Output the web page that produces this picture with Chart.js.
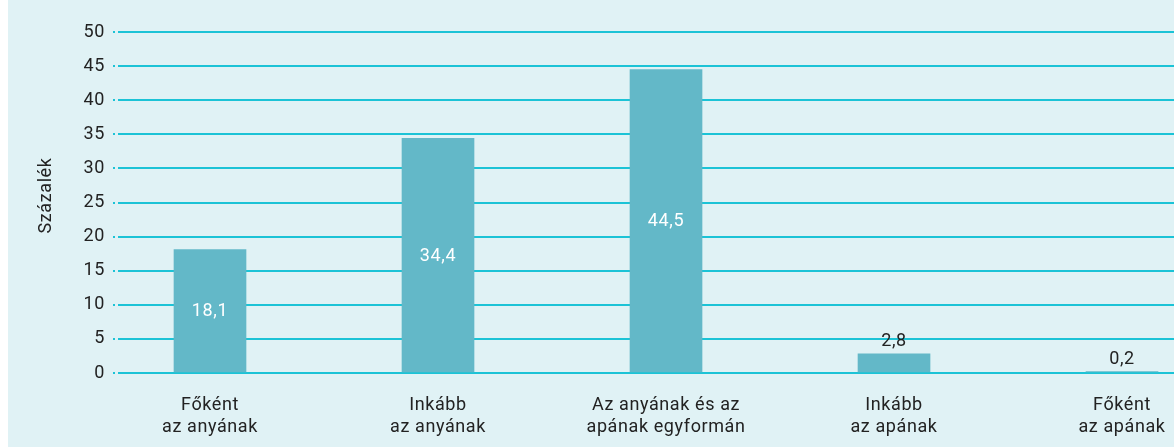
<!DOCTYPE html>
<html>
<head>
<meta charset="utf-8">
<script src="https://cdn.jsdelivr.net/npm/chart.js@4/dist/chart.umd.min.js"></script>
<style>
  html, body { margin: 0; padding: 0; background: #fff; }
  #wrap { position: absolute; left: 8px; top: 0; width: 1166px; height: 447px; background: #e0f2f5; }
  canvas { display: block; }
</style>
</head>
<body>
<div id="wrap"><canvas id="chart" width="1166" height="447"></canvas></div>
<script>
// categories (two lines each) and values in percent
var categories = [
	['Főként', 'az anyának'],
	['Inkább', 'az anyának'],
	['Az anyának és az', 'apának egyformán'],
	['Inkább', 'az apának'],
	['Főként', 'az apának']
];
var positions = [0, 1, 2, 3, 4];
var values = [18.1, 34.4, 44.5, 2.8, 0.2];
var valueLabels = ['18,1', '34,4', '44,5', '2,8', '0,2'];
var yTitle = 'Százalék';

var font = { family: 'Roboto, "DejaVu Sans", sans-serif', size: 18, lineHeight: 1.2 };
var spacing = '0.6px';

var points = [];
for (i = 0; i < values.length; i++) {
	points.push({ x: positions[i], y: values[i] });
}

// wider letters, closer to the DIN look of the original
var letterSpace = {
	id: 'letterSpace',
	beforeLayout: function(chart) { chart.ctx.letterSpacing = spacing; },
	beforeDraw: function(chart) { chart.ctx.letterSpacing = spacing; }
};

// value labels inside tall bars, above short ones; plus the y title
var barLabels = {
	id: 'barLabels',
	afterDatasetsDraw: function(chart) {
		var ctx = chart.ctx;
		var meta = chart.getDatasetMeta(0);
		ctx.save();
		ctx.letterSpacing = spacing;
		ctx.font = font.size + 'px ' + font.family;
		ctx.textAlign = 'center';
		ctx.textBaseline = 'middle';
		meta.data.forEach(function(bar, i) {
			if (values[i] > 10) {
				ctx.fillStyle = '#ffffff';
				ctx.fillText(valueLabels[i], bar.x, (bar.y + bar.base) / 2 + 1);
			} else {
				ctx.fillStyle = '#222222';
				ctx.fillText(valueLabels[i], bar.x, bar.y - 12);
			}
		});
		// y title sits a little above the axis middle
		var area = chart.chartArea;
		ctx.translate(38, (area.top + area.bottom) / 2 - 7);
		ctx.rotate(-Math.PI / 2);
		ctx.fillStyle = '#222222';
		ctx.fillText(yTitle, 0, 0);
		ctx.restore();
	}
};

new Chart(document.getElementById('chart'), {
	type: 'bar',
	data: {
		datasets: [{
			data: points,
			backgroundColor: '#63b8c8',
			barThickness: 72
		}]
	},
	plugins: [letterSpace, barLabels],
	options: {
		responsive: false,
		animation: false,
		plugins: { legend: { display: false }, tooltip: { enabled: false } },
		layout: { padding: { top: 32, right: 0, left: 0, bottom: 0 } },
		scales: {
			x: {
				type: 'linear',
				offset: false,
				min: -0.4035,
				max: 4.228,
				grid: { display: false, offset: false },
				border: { display: false },
				afterBuildTicks: function(scale) {
					scale.ticks = positions.map(function(v) { return { value: v }; });
				},
				afterFit: function(scale) {
					scale.height = 74;
					scale.paddingLeft = 0;
					scale.paddingRight = 0;
				},
				ticks: {
					autoSkip: false,
					maxRotation: 0,
					padding: 14,
					color: '#222222',
					font: font,
					callback: function(v) { return categories[v]; }
				}
			},
			y: {
				min: 0,
				max: 50,
				afterFit: function(scale) { scale.width = 110; },
				border: { display: false },
				grid: {
					color: '#1cc3d6',
					lineWidth: 2,
					tickLength: 5,
					tickColor: '#1cc3d6',
					tickBorderDash: [2, 6]
				},
				ticks: {
					stepSize: 5,
					padding: 8,
					color: '#222222',
					font: font
				}
			}
		}
	}
});
</script>
</body>
</html>
